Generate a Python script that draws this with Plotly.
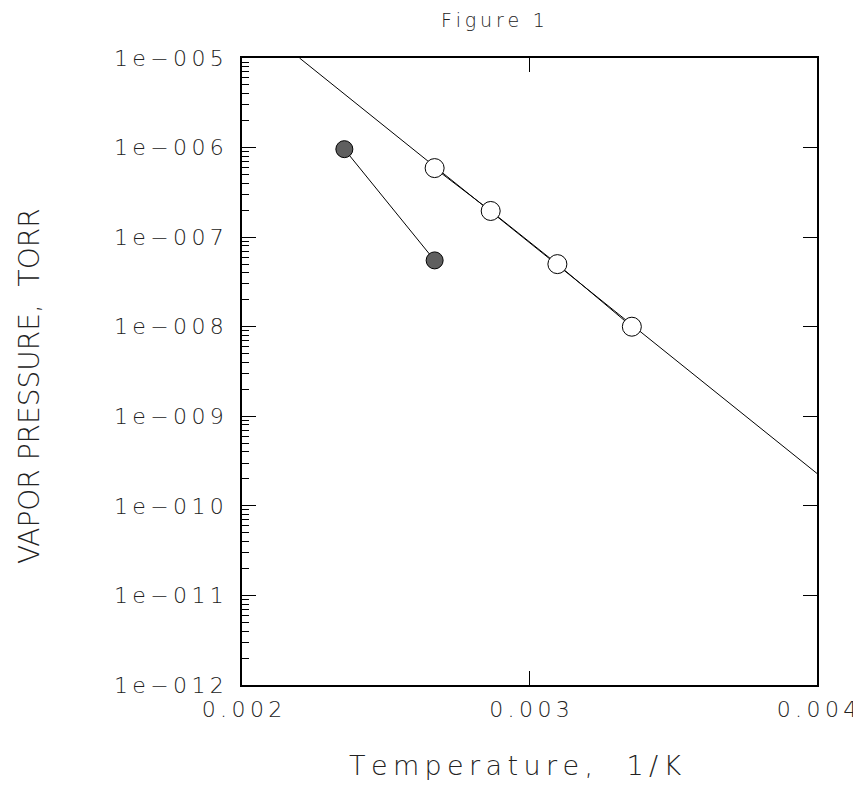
import plotly.graph_objects as go

# Data
open_x = [0.00267, 0.002865, 0.003097, 0.003356]
open_y = [5.9e-7, 1.96e-7, 5.0e-8, 1.0e-8]
filled_x = [0.002356, 0.00267]
filled_y = [9.6e-7, 5.5e-8]
fit_x = [0.0022, 0.004]
fit_y = [1.0e-5, 2.3e-10]

y_tickvals = [1e-5, 1e-6, 1e-7, 1e-8, 1e-9, 1e-10, 1e-11, 1e-12]
y_labels = ["1e\u2212005", "1e\u2212006", "1e\u2212007", "1e\u2212008",
            "1e\u2212009", "1e\u2212010", "1e\u2212011", "1e\u2212012"]
x_tickvals = [0.002, 0.003, 0.004]
x_labels = ["0.002", "0.003", "0.004"]
title_text = "Figure 1"
x_title = "Temperature,  1/K"
y_title = "VAPOR PRESSURE,  TORR"


def sp(s):
    """Widen letter spacing with thin spaces (text stays real text)."""
    return "\u2009".join(s)


FONT = "DejaVu Sans"
W = 200
TXT = "#222"

fig = go.Figure()
fig.add_trace(go.Scatter(x=fit_x, y=fit_y, mode="lines",
                         line=dict(color="black", width=1), showlegend=False))
fig.add_trace(go.Scatter(x=open_x, y=open_y, mode="lines+markers",
                         line=dict(color="black", width=1),
                         marker=dict(symbol="circle", size=19, color="white",
                                     line=dict(color="black", width=1)),
                         showlegend=False))
fig.add_trace(go.Scatter(x=filled_x, y=filled_y, mode="lines+markers",
                         line=dict(color="black", width=1),
                         marker=dict(symbol="circle", size=17, color="#5f5f5f",
                                     line=dict(color="black", width=1)),
                         showlegend=False))

common_y = dict(type="log", range=[-12, -5], showgrid=False, zeroline=False,
                showline=True, linecolor="black", linewidth=1.5)
common_x = dict(range=[0.002, 0.004], showgrid=False, zeroline=False,
                showline=True, linecolor="black", linewidth=1.5)

fig.update_layout(
    width=861, height=785,
    margin=dict(l=234, r=49, t=50, b=108),
    paper_bgcolor="white", plot_bgcolor="white",
    font=dict(family=FONT, color=TXT, size=20, weight=W),
    title=dict(text=sp(title_text), x=485 / 861, xanchor="center",
               y=1 - 12 / 785, yanchor="middle",
               font=dict(family=FONT, size=19, color=TXT, weight=W)),
    xaxis=dict(**common_x, tickvals=x_tickvals,
               ticktext=[sp(t) for t in x_labels],
               ticks="inside", ticklen=14, tickcolor="black",
               ticklabelstandoff=4,
               tickfont=dict(family=FONT, size=22, color=TXT, weight=W)),
    yaxis=dict(**common_y, tickvals=y_tickvals,
               ticktext=[sp(t) for t in y_labels],
               ticks="inside", ticklen=14, tickcolor="black",
               ticklabelstandoff=12,
               tickfont=dict(family=FONT, size=22, color=TXT, weight=W),
               minor=dict(ticks="inside", ticklen=7, tickcolor="black",
                          dtick="D1", showgrid=False)),
    xaxis2=dict(**common_x, overlaying="x", side="top", anchor="y",
                tickvals=x_tickvals, ticks="inside", ticklen=14,
                tickcolor="black", showticklabels=False),
    yaxis2=dict(**common_y, overlaying="y", side="right", anchor="x",
                tickvals=y_tickvals, ticks="inside", ticklen=14,
                tickcolor="black", showticklabels=False),
    annotations=[
        dict(text=sp(x_title), xref="paper", yref="paper",
             x=(517 - 242) / 578, y=-80 / 627, xanchor="center",
             yanchor="middle", showarrow=False,
             font=dict(family=FONT, size=27, color=TXT, weight=W)),
        dict(text=y_title, xref="paper", yref="paper", textangle=-90,
             x=(28 - 242) / 578, y=(685 - 386) / 627, xanchor="center",
             yanchor="middle", showarrow=False,
             font=dict(family=FONT, size=28, color=TXT, weight=W)),
    ],
)
# invisible trace so the mirrored top/right axes are drawn
fig.add_trace(go.Scatter(x=[0.003], y=[1e-8], xaxis="x2", yaxis="y2",
                         mode="markers", marker=dict(opacity=0),
                         hoverinfo="skip", showlegend=False))

fig.write_html("out.html")
